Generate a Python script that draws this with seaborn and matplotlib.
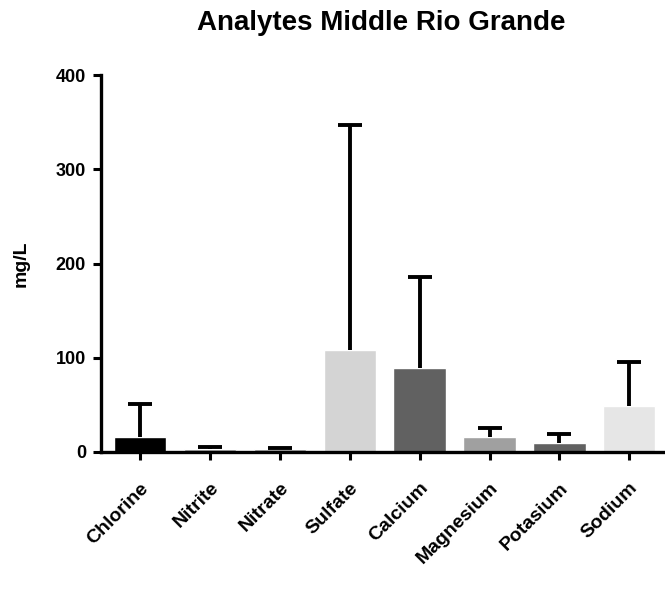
import seaborn as sns
import pandas as pd
import numpy as np
from matplotlib import pyplot as plt

# values
analytes = ['Chlorine', 'Nitrite', 'Nitrate', 'Sulfate', 'Calcium',
            'Magnesium', 'Potasium', 'Sodium']
means = [16, 3.5, 3, 108, 89, 16, 9.5, 49]
upper = [51, 5.5, 4.5, 347, 186, 25, 19, 96]
colors = ['#000000', '#9a9a9a', '#9a9a9a', '#d4d4d4', '#616161',
          '#a0a0a0', '#616161', '#e6e6e6']
yticks = [0, 100, 200, 300, 400]

df = pd.DataFrame({'Analyte': analytes, 'mg/L': means})

sns.set_style('white')
plt.rcParams['font.family'] = ['Liberation Sans', 'DejaVu Sans']
plt.rcParams['font.weight'] = 'bold'
plt.rcParams['text.color'] = 'black'
plt.rcParams['axes.labelcolor'] = 'black'
plt.rcParams['xtick.color'] = 'black'
plt.rcParams['ytick.color'] = 'black'

fig = plt.figure(figsize=(6.65, 6.05), dpi=100)
ax = fig.add_axes([0.1519, 0.2529, 0.848, 0.6231])

sns.barplot(data=df, x='Analyte', y='mg/L', hue='Analyte', palette=colors,
            width=0.75, saturation=1, legend=False, errorbar=None, ax=ax)

# upward-only error bars: stem + top cap
xpos = np.arange(len(analytes))
ax.vlines(xpos, means, upper, colors='black', linewidth=2.8, zorder=3)
ax.plot(xpos, upper, linestyle='none', marker='_', markersize=17,
        markeredgewidth=2.8, color='black', zorder=3)

ax.set_xlim(-0.56, 7.51)
ax.set_ylim(0, 400)
ax.set_yticks(yticks)
ax.set_yticklabels([str(v) for v in yticks], fontsize=13, fontweight='bold')
ax.set_xticks(xpos)
ax.set_xticklabels(analytes, rotation=45, ha='right', rotation_mode='anchor',
                   fontsize=14, fontweight='bold')
ax.tick_params(axis='both', direction='out', length=5.8, width=2.2,
               color='black', bottom=True, left=True)
ax.tick_params(axis='x', pad=14)
ax.tick_params(axis='y', pad=5)

for side in ['top', 'right']:
    ax.spines[side].set_visible(False)
for side in ['left', 'bottom']:
    ax.spines[side].set_linewidth(2.4)
    ax.spines[side].set_color('black')

ax.set_xlabel('')
ax.set_ylabel('mg/L', fontsize=14, fontweight='bold', labelpad=19)
fig.text(0.574, 0.962, 'Analytes Middle Rio Grande', ha='center', va='center',
         fontsize=20, fontweight='bold')

fig.savefig('out.png', dpi=100)
